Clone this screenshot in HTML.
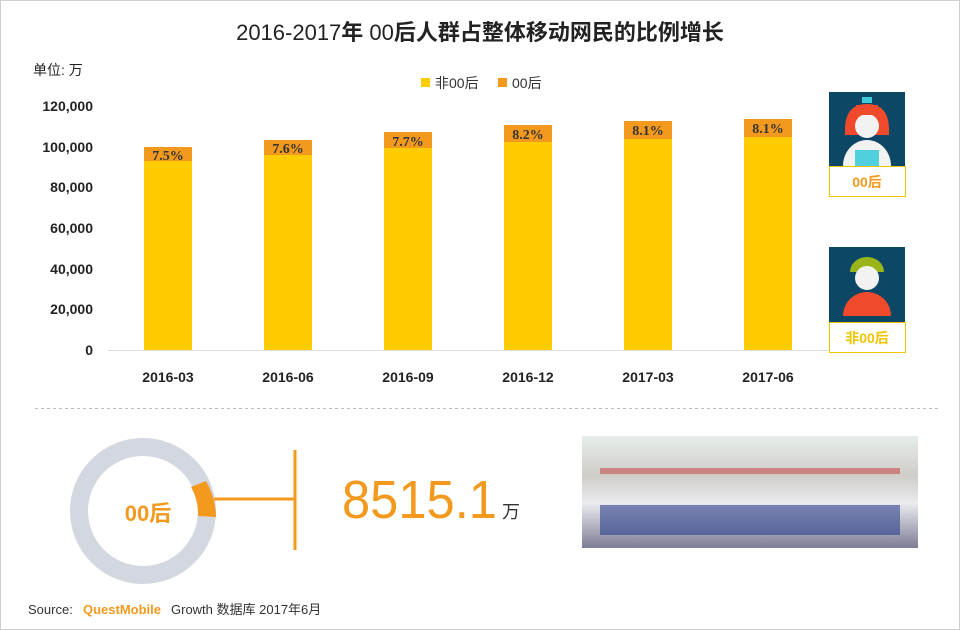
<!DOCTYPE html>
<html><head><meta charset="utf-8"><style>
body{margin:0;background:#fff;}
.wrap{position:relative;width:958px;height:628px;border:1px solid #cfcfcf;overflow:hidden;font-family:"Liberation Sans","Noto Sans CJK SC",sans-serif;}
.a{position:absolute;}
</style></head><body><div class="wrap">
<svg class="a" style="left:-1px;top:-1px" width="960" height="630" font-family="Liberation Sans, Noto Sans CJK SC, sans-serif">
<text x="480" y="40" text-anchor="middle" font-size="22" fill="#222">2016-2017<tspan font-weight="bold">年 </tspan>00<tspan font-weight="bold">后人群占整体移动网民的比例增长</tspan></text>
<text x="33" y="75" font-size="14" fill="#222">单位: 万</text>
<rect x="421" y="78" width="9" height="9" fill="#ffcc00"/><text x="435" y="88" font-size="14" fill="#333">非00后</text>
<rect x="498" y="78" width="9" height="9" fill="#f39a1e"/><text x="512" y="88" font-size="14" fill="#333">00后</text>
<g font-size="14" font-weight="bold" fill="#222" text-anchor="end">
<text x="93" y="111">120,000</text><text x="93" y="152">100,000</text><text x="93" y="192">80,000</text><text x="93" y="233">60,000</text><text x="93" y="274">40,000</text><text x="93" y="314">20,000</text><text x="93" y="355">0</text></g>
<line x1="108" y1="350.5" x2="828" y2="350.5" stroke="#ddd"/>
<g fill="#ffcc00">
<rect x="144" y="161" width="48" height="189"/><rect x="264" y="155" width="48" height="195"/><rect x="384" y="148" width="48" height="202"/><rect x="504" y="142" width="48" height="208"/><rect x="624" y="139" width="48" height="211"/><rect x="744" y="137" width="48" height="213"/></g>
<g fill="#f39a1e">
<rect x="144" y="147" width="48" height="14"/><rect x="264" y="140" width="48" height="15"/><rect x="384" y="132" width="48" height="16"/><rect x="504" y="125" width="48" height="17"/><rect x="624" y="121" width="48" height="18"/><rect x="744" y="119" width="48" height="18"/></g>
<g font-size="14" font-family="Liberation Serif, serif" font-weight="bold" fill="#333" text-anchor="middle">
<text x="168" y="160">7.5%</text><text x="288" y="153">7.6%</text><text x="408" y="146">7.7%</text><text x="528" y="139">8.2%</text><text x="648" y="135">8.1%</text><text x="768" y="133">8.1%</text></g>
<g font-size="14" font-weight="bold" fill="#222" text-anchor="middle">
<text x="168" y="382">2016-03</text><text x="288" y="382">2016-06</text><text x="408" y="382">2016-09</text><text x="528" y="382">2016-12</text><text x="648" y="382">2017-03</text><text x="768" y="382">2017-06</text></g>
<!-- avatars -->
<rect x="829" y="92" width="76" height="74" fill="#0d4766"/>
<path d="M845 130 Q845 104 867 104 Q889 104 889 130 L889 135 L845 135 Z" fill="#f04a2c"/>
<circle cx="867" cy="126" r="12" fill="#f2f2f2"/><rect x="856" y="105" width="22" height="10" fill="#f04a2c"/>
<rect x="862" y="97" width="10" height="6" fill="#3fc8d8"/>
<path d="M843 166a24 26 0 0 1 48 0z" fill="#f2f2f2"/><rect x="855" y="150" width="24" height="16" fill="#4fd0dc"/>
<rect x="829.5" y="166.5" width="76" height="30" fill="#fff" stroke="#f0c400"/>
<text x="867" y="187" text-anchor="middle" font-size="14" font-weight="bold" fill="#f39a1e">00后</text>
<rect x="829" y="247" width="76" height="75" fill="#0d4766"/>
<path d="M850 272a17 15 0 0 1 34 0z" fill="#9ab51a"/><circle cx="867" cy="278" r="12" fill="#f2f2f2"/>
<path d="M843 316a24 24 0 0 1 48 0z" fill="#f04a2c"/>
<rect x="829.5" y="322.5" width="76" height="30" fill="#fff" stroke="#f0c400"/>
<text x="867" y="343" text-anchor="middle" font-size="14" font-weight="bold" fill="#f0c400">非00后</text>
<line x1="35" y1="408.5" x2="940" y2="408.5" stroke="#bbb" stroke-dasharray="3,3"/>
<!-- donut -->
<circle cx="143" cy="511" r="64" fill="none" stroke="#d3d7df" stroke-width="18"/>
<path d="M206 481 A73 73 0 0 1 216 517 L198 516 A55 55 0 0 0 191 487 Z" fill="#f39a1e"/>
<text x="148" y="521" text-anchor="middle" font-size="22" font-weight="bold" fill="#f39a1e">00后</text>
<line x1="214" y1="499" x2="295" y2="499" stroke="#f39a1e" stroke-width="3"/>
<line x1="295" y1="450" x2="295" y2="550" stroke="#f39a1e" stroke-width="3"/>
<text x="342" y="518" font-size="54" fill="#f39a1e" textLength="155" lengthAdjust="spacingAndGlyphs">8515.1</text>
<text x="502" y="518" font-size="18" fill="#333">万</text>
<text x="28" y="614" font-size="13" fill="#333">Source:</text>
<text x="83" y="614" font-size="13" font-weight="bold" fill="#f39a1e">QuestMobile</text>
<text x="171" y="614" font-size="13" fill="#333">Growth 数据库 2017年6月</text>
<!-- photo -->
<defs><linearGradient id="g" x1="0" y1="0" x2="0" y2="1"><stop offset="0" stop-color="#e4ece8"/><stop offset="0.35" stop-color="#c9c7c2"/><stop offset="0.6" stop-color="#e8e8ee"/><stop offset="1" stop-color="#6e6f8a"/></linearGradient></defs>
<rect x="582" y="436" width="336" height="112" fill="url(#g)" opacity="0.9"/>
<g fill="#2d3f8a" opacity="0.6"><rect x="600" y="505" width="300" height="30"/></g>
<g fill="#c85050" opacity="0.6"><rect x="600" y="468" width="300" height="6"/></g>
</svg></div></body></html>
